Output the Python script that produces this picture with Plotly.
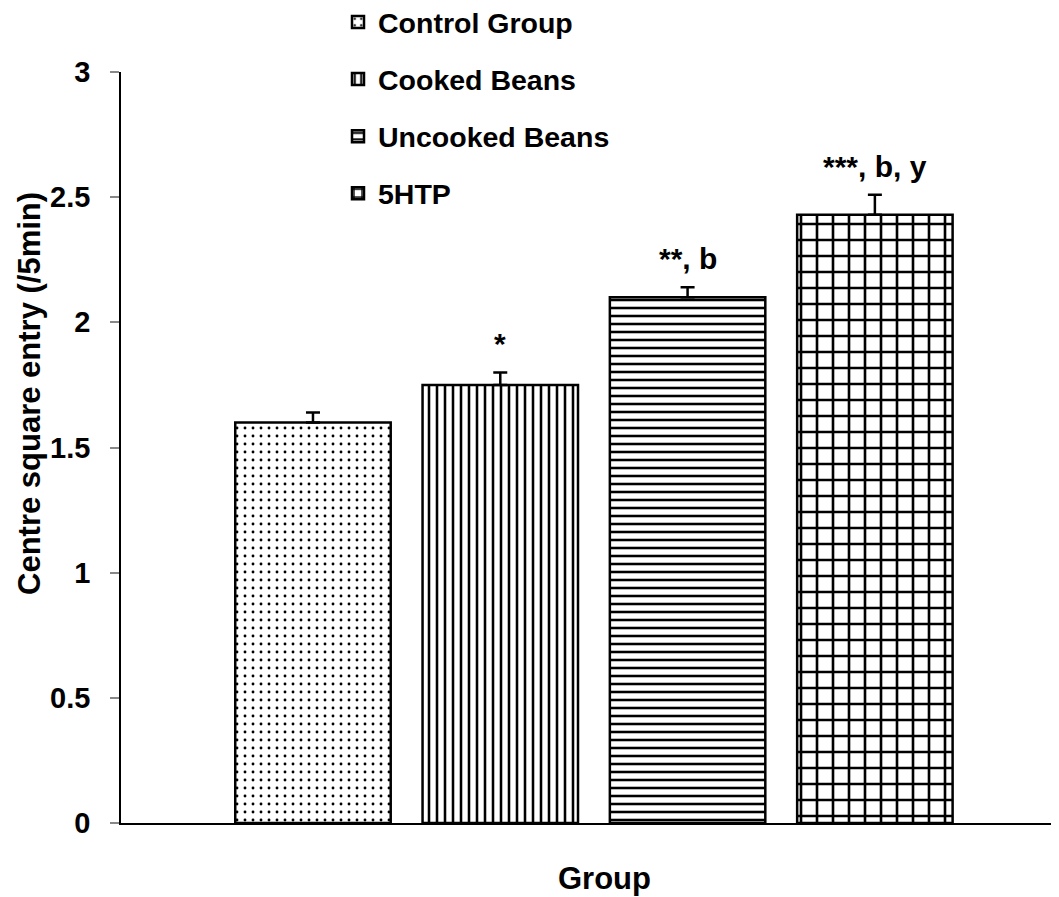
import plotly.graph_objects as go

groups = ["Control Group", "Cooked Beans", "Uncooked Beans", "5HTP"]
means = [1.60, 1.75, 2.10, 2.43]
errors = [0.04, 0.05, 0.04, 0.08]
signif = ["", "*", "**, b", "***, b, y"]
patterns = [".", "|", "-", "+"]
pattern_sizes = [8, 8, 8, 16]
pattern_solidity = [0.1, 0.32, 0.32, 0.3]
category = "Group"
y_ticks = [0, 0.5, 1, 1.5, 2, 2.5, 3]
x_title = "Group"
y_title = "Centre square entry (/5min)"

FONT = "Liberation Sans, Arial, sans-serif"

fig = go.Figure()
for i, g in enumerate(groups):
    fig.add_trace(go.Bar(
        x=[category], y=[means[i]], name=g, legendgroup=g,
        marker=dict(color="white",
                    line=dict(color="black", width=2.5),
                    pattern=dict(shape=patterns[i], fgcolor="black", bgcolor="white",
                                 fgopacity=1, size=pattern_sizes[i],
                                 solidity=pattern_solidity[i], fillmode="replace")),
        error_y=dict(type="data", array=[errors[i]], arrayminus=[0], symmetric=False,
                     color="black", thickness=2.5, width=7),
    ))

bargap = 0.2
slot = (1 - bargap) / len(groups)
for i, s in enumerate(signif):
    if not s:
        continue
    xc = -0.5 * (1 - bargap) + slot * (i + 0.5)
    fig.add_annotation(x=xc, y=means[i] + errors[i], xref="x", yref="y",
                       text=s, showarrow=False, yanchor="bottom", yshift=10,
                       font=dict(family=FONT, size=30, color="black", weight="bold"))

# axis titles
fig.add_annotation(x=0.5, y=0, xref="paper", yref="paper", xshift=14, yshift=-55,
                   text=x_title, showarrow=False, xanchor="center", yanchor="middle",
                   font=dict(family=FONT, size=31, color="black", weight="bold"))
fig.add_annotation(x=0, y=(823 - 394) / 751, xref="paper", yref="paper", xshift=-91,
                   text=y_title, showarrow=False, xanchor="center", yanchor="middle",
                   textangle=-90,
                   font=dict(family=FONT, size=31, color="black", weight="bold"))

fig.update_layout(
    width=1059, height=897,
    margin=dict(l=113, r=8, t=64, b=82, autoexpand=False),
    plot_bgcolor="white", paper_bgcolor="white",
    barmode="group", bargap=bargap, bargroupgap=0.17,
    showlegend=True,
    legend=dict(xref="paper", yref="paper", x=(338 - 121) / 938, y=1 + 75 / 751,
                xanchor="left", yanchor="top",
                font=dict(family=FONT, size=28.5, color="black", weight="bold"),
                tracegroupgap=17, bgcolor="rgba(0,0,0,0)", itemwidth=30),
    font=dict(family=FONT, color="black"),
)
fig.update_xaxes(range=[-0.505, 0.4966], showline=True, linecolor="black", linewidth=2,
                 showticklabels=False, ticks="", showgrid=False, zeroline=False)
fig.update_yaxes(range=[0, 3], tickvals=y_ticks, showline=True, linecolor="black", linewidth=1.5,
                 ticks="outside", ticklen=9, tickcolor="#888888", tickwidth=1.5,
                 showgrid=False, zeroline=False, ticklabelstandoff=14,
                 tickfont=dict(family=FONT, size=29, color="black", weight="bold"))

fig.write_html("out.html")
